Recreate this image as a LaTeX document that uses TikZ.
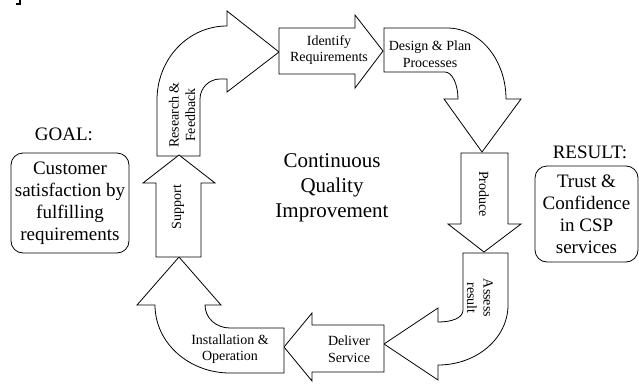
\documentclass[tikz,border=0pt]{standalone}
\usepackage{fontspec}
\setmainfont{Liberation Serif}
\begin{document}
\begin{tikzpicture}[x=1pt,y=-1pt,
  blockarrow/.style={draw=black, line width=0.8pt, fill=white, line join=miter},
  lbl/.style={font=\fontsize{14}{16.5}\selectfont, align=center, inner sep=0pt},
  boxtext/.style={font=\fontsize{19}{22}\selectfont, align=center, inner sep=0pt},
  roundbox/.style={draw=black, line width=0.8pt, rounded corners=12pt,
    font=\fontsize{19}{22}\selectfont, align=center, inner sep=0pt},
  title/.style={font=\fontsize{21}{25}\selectfont, align=center, inner sep=0pt}]
\useasboundingbox (0,0) rectangle (639,383);

% small bracket fragment in the corner
\draw[line width=1.2pt] (20,0) -- (20,4) -- (16,4);

% Research & Feedback (curved up, then right)
\draw[blockarrow] (157,156) -- (157,100)
  .. controls (157,59) and (188,26) .. (227,26)
  -- (227,11) -- (279,52) -- (227,92) -- (227,79) -- (220,79)
  .. controls (209,79) and (200,88) .. (200,99)
  -- (200,156) -- cycle;

% Identify Requirements (straight right)
\draw[blockarrow] (279,28) -- (355,28) -- (355,15) -- (383,51)
  -- (355,88) -- (355,74) -- (279,74) -- cycle;

% Design & Plan Processes (right, then curved down)
\draw[blockarrow] (384,28) -- (447,28)
  .. controls (480,28) and (506,60) .. (506,99)
  -- (521,99) -- (482,152) -- (444,99) -- (458,99)
  .. controls (458,84) and (452,72) .. (445,72)
  -- (384,72) -- cycle;

% Produce (straight down)
\draw[blockarrow] (461,153) -- (508,153) -- (508,224) -- (521,224)
  -- (484,252) -- (448,224) -- (461,224) -- cycle;

% Assess result (down, then curved left)
\draw[blockarrow] (463,253) -- (508,253) -- (508,305)
  .. controls (508,338) and (477,365) .. (438,365)
  -- (438,380) -- (384,344) -- (438,308) -- (438,322)
  .. controls (452,322) and (463,318) .. (463,310)
  -- cycle;

% Deliver Service (straight left)
\draw[blockarrow] (384,325) -- (384,372) -- (312,372) -- (312,381)
  -- (284,347) -- (312,313) -- (312,325) -- cycle;

% Installation & Operation (left, then curved up)
\draw[blockarrow] (284,328) -- (284,373) -- (230,373)
  .. controls (189,373) and (155,343) .. (155,305)
  -- (137,305) -- (179,257) -- (221,305) -- (205,305)
  .. controls (205,318) and (216,328) .. (230,328)
  -- cycle;

% Support (straight up)
\draw[blockarrow] (156,257) -- (156,183) -- (143,183) -- (179,155)
  -- (215,183) -- (201,183) -- (201,257) -- cycle;

% step labels
\node[lbl, rotate=90] (research) at (182,115) {Research \&\\Feedback};
\node[lbl] (identify) at (329,50) {Identify\\Requirements};
\node[lbl] (design) at (430,54) {Design \& Plan\\Processes};
\node[lbl, rotate=-90] (produce) at (484,194) {Produce};
\node[lbl, rotate=-90] (assess) at (480,298) {Assess\\result};
\node[lbl] (deliver) at (349,349) {Deliver\\Service};
\node[lbl] (install) at (230,349) {Installation \&\\Operation};
\node[lbl, rotate=90] (support) at (178,207) {Support};

% centre title
\node[title] (cqi) at (332,188) {Continuous\\Quality\\Improvement};

% goal and result
\node[boxtext] (goallabel) at (64,134) {GOAL:};
\node[roundbox, minimum width=118pt, minimum height=100pt] (goal) at (70,203)
  {Customer\\satisfaction by\\fulfilling\\requirements};
\node[boxtext] (resultlabel) at (590,152) {RESULT:};
\node[roundbox, minimum width=103pt, minimum height=96pt] (result) at (586.5,214)
  {Trust \&\\Confidence\\in CSP\\services};
\end{tikzpicture}
\end{document}
